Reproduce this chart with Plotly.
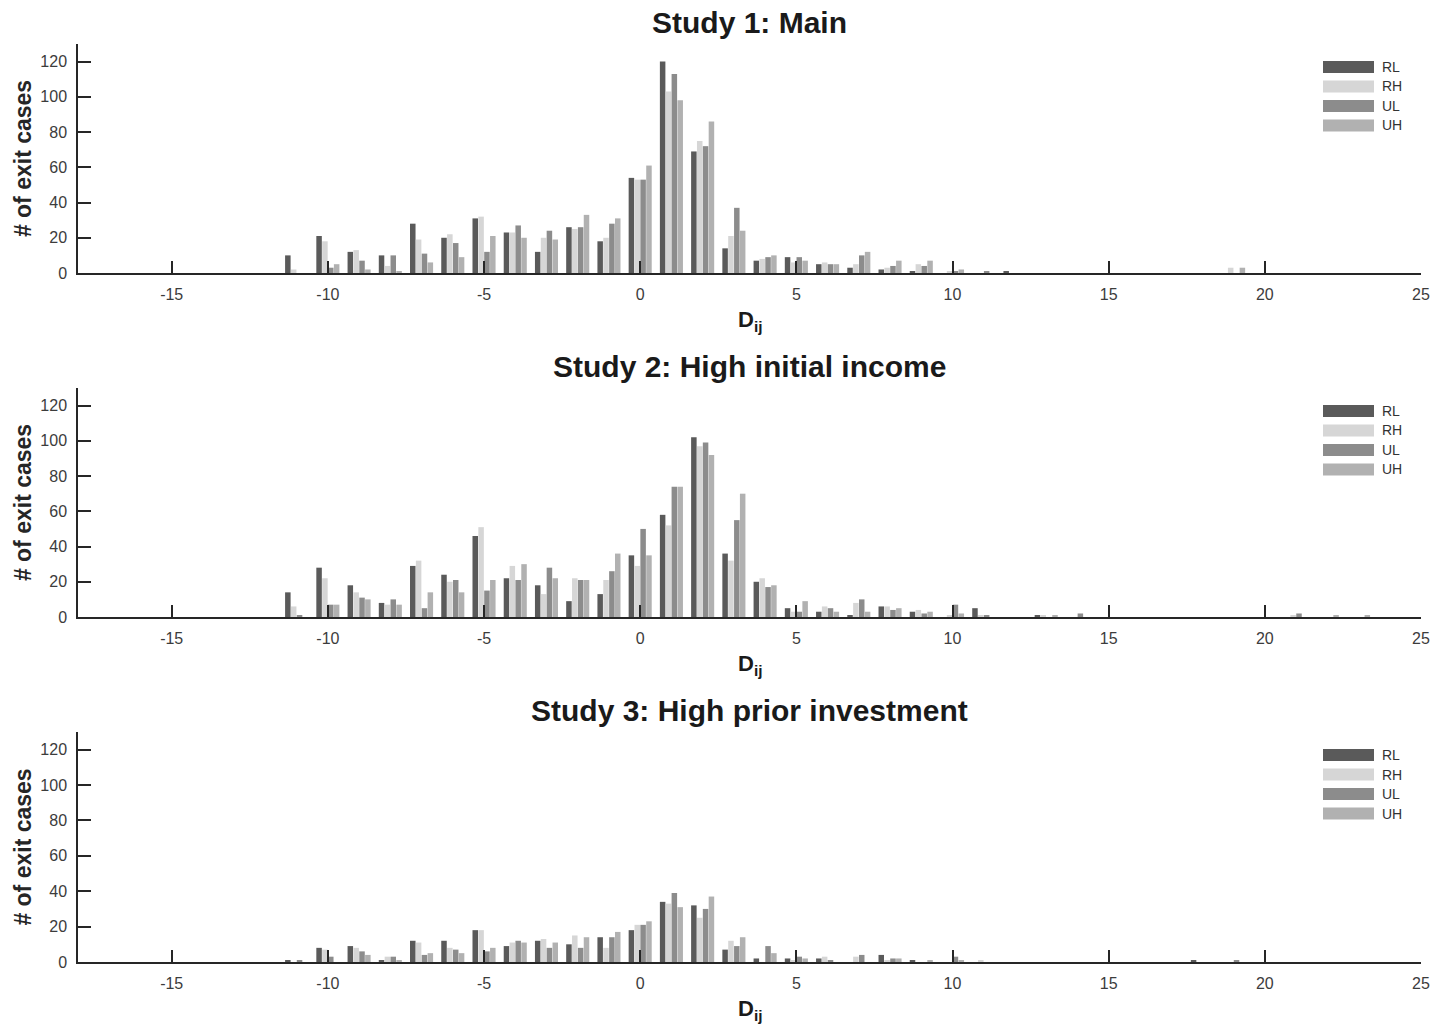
import plotly.graph_objects as go

# ---------------- data ----------------
bins = list(range(-11, 25))          # bin centres of D_ij
series = ["RL", "RH", "UL", "UH"]
colors = ["#5a5a5a", "#d6d6d6", "#8c8c8c", "#b1b1b1"]
titles = ["Study 1: Main", "Study 2: High initial income", "Study 3: High prior investment"]
x_ticks = [-15, -10, -5, 0, 5, 10, 15, 20, 25]
x_tick_labels = ["-15", "-10", "-5", "0", "5", "10", "15", "20", "25"]
y_ticks = [0, 20, 40, 60, 80, 100, 120]

s1_RL = [10, 21, 12, 10, 28, 20, 31, 23, 12, 26, 18, 54, 120, 69, 14, 7, 9, 5, 3, 2, 1, 0, 0, 1, 0, 0, 0, 0, 0, 0, 0, 0, 0, 0, 0, 0]
s1_RH = [2, 18, 13, 4, 19, 22, 32, 23, 20, 25, 20, 53, 103, 75, 21, 8, 6, 6, 5, 3, 5, 1, 0, 0, 0, 0, 0, 0, 0, 0, 3, 0, 0, 0, 0, 0]
s1_UL = [0, 3, 7, 10, 11, 17, 12, 27, 24, 26, 28, 53, 113, 72, 37, 9, 9, 5, 10, 4, 4, 1, 1, 0, 0, 0, 0, 0, 0, 0, 0, 0, 0, 0, 0, 0]
s1_UH = [0, 5, 2, 1, 6, 9, 21, 20, 19, 33, 31, 61, 98, 86, 24, 10, 7, 5, 12, 7, 7, 2, 0, 0, 0, 0, 0, 0, 0, 0, 3, 0, 0, 0, 0, 0]

s2_RL = [14, 28, 18, 8, 29, 24, 46, 22, 18, 9, 13, 35, 58, 102, 36, 20, 5, 3, 1, 6, 3, 0, 5, 0, 1, 0, 0, 0, 0, 0, 0, 0, 0, 0, 0, 0]
s2_RH = [6, 22, 14, 7, 32, 20, 51, 29, 13, 22, 21, 29, 52, 97, 32, 22, 3, 6, 8, 6, 4, 1, 1, 0, 1, 0, 0, 0, 0, 0, 0, 0, 1, 0, 0, 0]
s2_UL = [1, 7, 11, 10, 5, 21, 15, 21, 28, 21, 26, 50, 74, 99, 55, 17, 3, 5, 10, 4, 2, 7, 1, 0, 0, 2, 0, 0, 0, 0, 0, 0, 2, 0, 0, 0]
s2_UH = [0, 7, 10, 7, 14, 14, 21, 30, 22, 21, 36, 35, 74, 92, 70, 18, 9, 3, 3, 5, 3, 2, 0, 0, 1, 0, 0, 0, 0, 0, 0, 0, 0, 1, 1, 0]

s3_RL = [1, 8, 9, 1, 12, 12, 18, 9, 12, 10, 14, 18, 34, 32, 7, 2, 2, 2, 0, 4, 1, 0, 0, 0, 0, 0, 0, 0, 0, 1, 0, 0, 0, 0, 0, 0]
s3_RH = [0, 7, 8, 3, 11, 8, 18, 11, 13, 15, 8, 21, 33, 25, 12, 0, 1, 3, 3, 1, 0, 0, 1, 0, 0, 0, 0, 0, 0, 0, 0, 0, 0, 0, 0, 0]
s3_UL = [1, 3, 6, 3, 4, 7, 6, 12, 8, 8, 14, 21, 39, 30, 9, 9, 3, 1, 4, 2, 0, 3, 0, 0, 0, 0, 0, 0, 0, 0, 1, 0, 0, 0, 0, 0]
s3_UH = [0, 0, 4, 1, 5, 5, 8, 11, 11, 14, 17, 23, 31, 37, 14, 5, 2, 0, 0, 2, 1, 1, 0, 0, 0, 0, 0, 0, 0, 0, 0, 0, 0, 0, 0, 0]

panels = [
    [s1_RL, s1_RH, s1_UL, s1_UH],
    [s2_RL, s2_RH, s2_UL, s2_UH],
    [s3_RL, s3_RH, s3_UL, s3_UH],
]

# ---------------- layout geometry (pixels) ----------------
W, H = 1437, 1034
FONT = "Liberation Sans, Arial, Helvetica, sans-serif"
x_left, x_right = 78, 1421
panel_px = [(44, 273), (388, 617), (732, 962)]   # (top, bottom)


def px_x(p):
    return p / W


def px_y(p):
    return 1 - p / H


fig = go.Figure()
for k, data in enumerate(panels):
    ax = "" if k == 0 else str(k + 1)
    for name, col, vals in zip(series, colors, data):
        fig.add_trace(go.Bar(
            x=bins, y=vals, name=name, marker=dict(color=col, line=dict(width=0)),
            xaxis="x" + ax, yaxis="y" + ax, showlegend=False,
        ))

layout = dict(
    width=W, height=H, paper_bgcolor="white", plot_bgcolor="white",
    margin=dict(l=0, r=0, t=0, b=0, autoexpand=False),
    barmode="group", bargap=0.25, bargroupgap=0.06,
    font=dict(family=FONT, color="#333333"),
    showlegend=False,
)

annotations = []
shapes = []
for k, (top, bot) in enumerate(panel_px):
    ax = "" if k == 0 else str(k + 1)
    layout["xaxis" + ax] = dict(
        domain=[px_x(x_left), px_x(x_right)], anchor="y" + ax, automargin=False,
        range=[-18, 25], tickvals=x_ticks, ticktext=x_tick_labels,
        ticks="inside", ticklen=12, tickwidth=1.5,
        tickcolor="#262626", showline=True, linecolor="#262626", linewidth=1.5,
        showgrid=False, zeroline=False, ticklabelstandoff=6,
        tickfont=dict(size=16, color="#3c3c3c", family=FONT),
    )
    layout["yaxis" + ax] = dict(
        domain=[px_y(bot), px_y(top)], anchor="x" + ax, automargin=False,
        range=[0, 130], tickvals=y_ticks, ticks="inside", ticklen=13, tickwidth=1.5,
        tickcolor="#262626", showline=True, linecolor="#262626", linewidth=1.5,
        showgrid=False, zeroline=False, ticklabelstandoff=6,
        tickfont=dict(size=16, color="#3c3c3c", family=FONT),
        title=dict(text="# of exit cases", standoff=2,
                   font=dict(size=23, color="#262626", family=FONT, weight="bold")),
    )
    # panel title
    annotations.append(dict(
        text=titles[k], x=px_x((x_left + x_right) / 2), y=px_y(top - 22),
        xref="paper", yref="paper", xanchor="center", yanchor="middle", showarrow=False,
        font=dict(size=30, color="#1a1a1a", family=FONT, weight="bold"),
    ))
    # x-axis title
    annotations.append(dict(
        text="D<sub>ij</sub>", x=px_x((x_left + x_right) / 2), y=px_y(bot + 32),
        xref="paper", yref="paper", xanchor="center", yanchor="top", showarrow=False,
        font=dict(size=22, color="#1a1a1a", family=FONT, weight="bold"),
    ))
    # legend
    for i, (name, col) in enumerate(zip(series, colors)):
        yc = top + 23 + i * 19.5
        shapes.append(dict(
            type="rect", xref="paper", yref="paper",
            x0=px_x(1323), x1=px_x(1374), y0=px_y(yc + 6), y1=px_y(yc - 6),
            fillcolor=col, line=dict(width=0),
        ))
        annotations.append(dict(
            text=name, x=px_x(1380), y=px_y(yc), xref="paper", yref="paper",
            xanchor="left", yanchor="middle", showarrow=False,
            font=dict(size=14, color="#333333", family=FONT),
        ))

layout["annotations"] = annotations
layout["shapes"] = shapes
fig.update_layout(**layout)
fig.write_html("out.html", config={"displayModeBar": False},
               post_script="document.body.style.margin='0';")
